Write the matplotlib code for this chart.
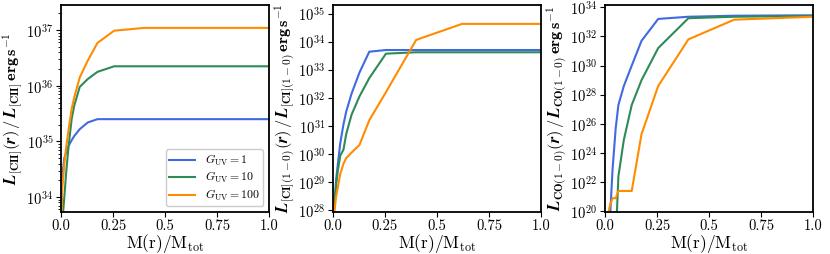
import matplotlib

matplotlib.use("Agg")
import matplotlib.pyplot as plt  # noqa: E402
import matplotlib.ticker as mticker  # noqa: E402
import numpy as np  # noqa: E402

plt.rcParams["mathtext.fontset"] = "cm"
plt.rcParams["font.family"] = "serif"
plt.rcParams["font.serif"] = ["cmr10", "DejaVu Serif"]
plt.rcParams["axes.formatter.use_mathtext"] = True

# enclosed mass fraction grid
mass_frac = [0, 0.005, 0.016, 0.025, 0.036, 0.051, 0.064, 0.09, 0.128, 0.175, 0.255, 0.40, 0.62, 1.0]

# log10 of cumulative luminosity, per G_UV
cii_g1 = [33.5, 34.35, 34.7, 34.8, 34.92, 35.02, 35.1, 35.22, 35.34, 35.4, 35.4, 35.4, 35.4, 35.4]
cii_g10 = [32.5, 33.5, 34.0, 34.45, 34.9, 35.4, 35.65, 35.98, 36.12, 36.25, 36.35, 36.35, 36.35, 36.35]
cii_g100 = [33.0, 34.1, 34.6, 34.9, 35.2, 35.58, 35.8, 36.15, 36.45, 36.77, 36.99, 37.04, 37.04, 37.04]

ci_g1 = [27.5, 27.95, 29.1, 29.7, 30.4, 31.05, 31.5, 32.15, 32.9, 33.64, 33.7, 33.7, 33.7, 33.7]
ci_g10 = [27.5, 27.9, 28.9, 29.45, 29.95, 30.15, 30.7, 31.4, 32.05, 32.7, 33.57, 33.62, 33.62, 33.62]
ci_g100 = [27.5, 27.8, 28.5, 28.85, 29.3, 29.65, 29.85, 30.05, 30.32, 31.2, 32.2, 34.06, 34.63, 34.63]

co_g1 = [10, 12, 16, 19.9, 22.9, 25.7, 27.3, 28.6, 30.0, 31.7, 33.2, 33.35, 33.42, 33.45]
co_g10 = [5, 8, 10, 13, 15, 18, 22.4, 24.9, 27.3, 29.0, 31.2, 33.25, 33.35, 33.4]
co_g100 = [15, 18, 19.9, 20.5, 20.9, 20.9, 21.4, 21.4, 21.4, 25.3, 28.6, 31.8, 33.15, 33.35]

labels = [r"$G_{\rm UV} = 1$", r"$G_{\rm UV} = 10$", r"$G_{\rm UV} = 100$"]
colors = ["#4169e1", "#2e8b57", "#ff8c00"]

panels = [
    ([cii_g1, cii_g10, cii_g100], (33.73, 37.45), [34, 35, 36, 37],
     r"$\mathbfit{L}_{\mathbf{[CII]}}\mathbf{(}\mathbfit{r}\mathbf{)\,/\,}\mathbfit{L}_{\mathbf{[CII]}}\,\mathbf{erg\,s^{-1}}$"),
    ([ci_g1, ci_g10, ci_g100], (27.93, 35.3), list(range(28, 36)),
     r"$\mathbfit{L}_{\mathbf{[CI](1-0)}}\mathbf{(}\mathbfit{r}\mathbf{)\,/\,}\mathbfit{L}_{\mathbf{[CI](1-0)}}\,\mathbf{erg\,s^{-1}}$"),
    ([co_g1, co_g10, co_g100], (19.95, 34.15), list(range(20, 35, 2)),
     r"$\mathbfit{L}_{\mathbf{CO(1-0)}}\mathbf{(}\mathbfit{r}\mathbf{)\,/\,}\mathbfit{L}_{\mathbf{CO(1-0)}}\,\mathbf{erg\,s^{-1}}$"),
]

fig = plt.figure(figsize=(8.3, 2.54), dpi=100)
lefts = [0.0735, 0.401, 0.729]

for left, (series, ylim, yticks, ylabel) in zip(lefts, panels):
    ax = fig.add_axes([left, 0.165, 0.251, 0.815])
    for vals, lab, col in zip(series, labels, colors):
        ax.plot(mass_frac, 10.0 ** np.array(vals), color=col, lw=1.5, label=lab)
    ax.set_yscale("log")
    ax.set_xlim(0, 1)
    ax.set_ylim(10 ** ylim[0], 10 ** ylim[1])
    ax.set_yticks([10.0 ** t for t in yticks])
    ax.set_yticklabels([rf"$10^{{{t}}}$" for t in yticks])
    if len(yticks) > 5:
        ax.yaxis.set_minor_locator(mticker.NullLocator())
    ax.set_xticks([0, 0.25, 0.5, 0.75, 1.0])
    ax.set_xticklabels(["0.0", "0.25", "0.5", "0.75", "1.0"])
    ax.tick_params(labelsize=10.5, pad=2)
    ax.set_xlabel(r"$\mathrm{M(r)/M_{tot}}$", fontsize=12.5, labelpad=-1)
    ax.set_ylabel(ylabel, fontsize=11.7, labelpad=1)
    for sp in ax.spines.values():
        sp.set_linewidth(1.3)
    if left == lefts[0]:
        ax.legend(loc="lower right", fontsize=8.5, framealpha=1,
                  labelspacing=0.2, borderpad=0.3, handlelength=2.2)

fig.savefig("out.png", dpi=100)
